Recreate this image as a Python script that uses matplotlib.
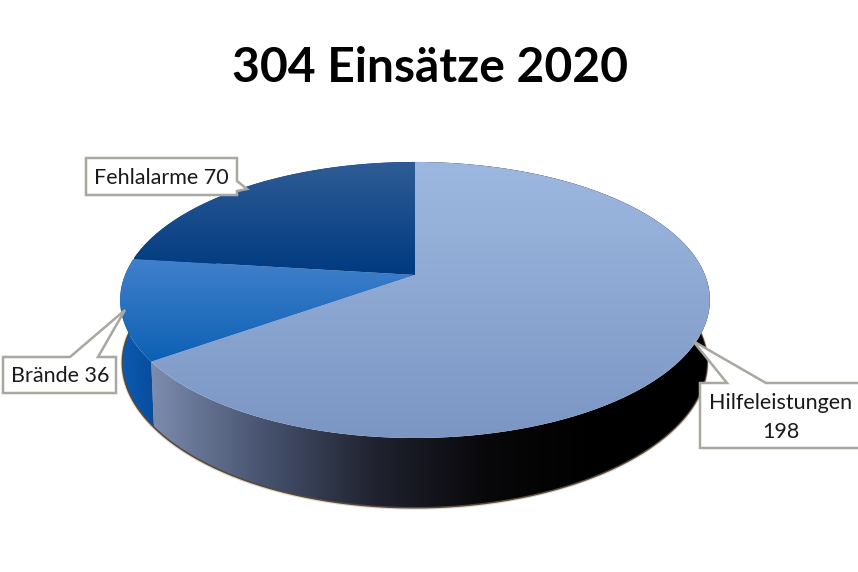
import numpy as np
import matplotlib
matplotlib.use("Agg")
import matplotlib.pyplot as plt
from matplotlib.colors import LinearSegmentedColormap
from matplotlib.patches import PathPatch, Polygon
from matplotlib.path import Path

# Daten
categories = ["Hilfeleistungen", "Brände", "Fehlalarme"]
values = [198, 36, 70]
title = "304 Einsätze 2020"

plt.rcParams["font.family"] = ["Lato", "DejaVu Sans"]

# Geometrie der Torte (Pixel im Bild)
CX, CY = 415, 275
RX, RY = 290, 133.5
PERSP = 0.181

top_colors = [("#9DB8E0", "#7C96C4"), ("#4180CC", "#0C60B4"), ("#2F5C96", "#003A80")]
wall_colors = [["#7C8CAE", "#47536F", "#20222F", "#08080A", "#000000", "#000000"],
               ["#0A5CB2", "#0A4C9C"],
               ["#003070", "#003070"]]


def project(ang):
    u, v = np.cos(ang), np.sin(ang)
    s = 1 + PERSP * v
    return CX + RX * u / s, CY - RY * v / s


def lower(ang):
    x, y = project(ang)
    v = np.sin(ang)
    return CX + (x - CX) * 0.99, y + 62 + 7 * v ** 2


def fill_gradient(ax, xs, ys, colors, horizontal=False, zorder=2):
    verts = np.column_stack([xs, ys])
    patch = Polygon(verts, closed=True, facecolor="none", edgecolor="none", zorder=zorder)
    ax.add_patch(patch)
    cmap = LinearSegmentedColormap.from_list("g", colors)
    grad = np.linspace(0, 1, 256)
    grad = grad.reshape(1, -1) if horizontal else grad.reshape(-1, 1)
    ext = (xs.min(), xs.max(), ys.max(), ys.min())
    im = ax.imshow(grad, cmap=cmap, extent=ext, aspect="auto", zorder=zorder,
                   interpolation="bilinear")
    im.set_clip_path(patch)


def callout(ax, pts):
    codes = [Path.MOVETO] + [Path.LINETO] * (len(pts) - 1) + [Path.CLOSEPOLY]
    path = Path(list(pts) + [pts[0]], codes)
    ax.add_patch(PathPatch(path, facecolor="white", edgecolor="#A8A8A0", lw=1.8,
                           joinstyle="miter", zorder=6))


fig = plt.figure(figsize=(8.58, 5.72), dpi=100)
ax = fig.add_axes([0, 0, 1, 1])

# Winkel der Segmente, im Uhrzeigersinn ab 12 Uhr
sweeps = np.array(values) / sum(values) * 2 * np.pi
starts = np.pi / 2 - np.concatenate([[0], np.cumsum(sweeps)[:-1]])

# Schatten am unteren Rand
a = np.linspace(np.radians(-190), np.radians(10), 300)
lx, ly = lower(a)
ax.plot(lx - 0.3, ly + 0.6, color="#7A6040", lw=3, alpha=0.25, zorder=1)
ax.plot(lx - 0.2, ly + 0.3, color="#2A1806", lw=1.8, alpha=0.75, zorder=1)

# Seitenwände
for i in range(len(values)):
    a = np.linspace(starts[i], starts[i] - sweeps[i], 300)
    tx, ty = project(a)
    bx, by = lower(a)
    xs = np.concatenate([tx, bx[::-1]])
    ys = np.concatenate([ty, by[::-1]])
    fill_gradient(ax, xs, ys, wall_colors[i], horizontal=True, zorder=2)

# Deckflächen
for i in range(len(values)):
    a = np.linspace(starts[i], starts[i] - sweeps[i], 300)
    tx, ty = project(a)
    xs = np.concatenate([[CX], tx])
    ys = np.concatenate([[CY], ty])
    fill_gradient(ax, xs, ys, top_colors[i], zorder=3)

# Beschriftungen
callout(ax, [(86, 158), (237, 158), (237, 181), (247, 189), (237, 191), (237, 195), (86, 195)])
callout(ax, [(3, 357), (70, 357), (125, 310), (98, 357), (116, 357), (116, 393), (3, 393)])
callout(ax, [(700, 383), (727, 383), (693, 341), (766, 383), (870, 383), (870, 448), (700, 448)])

ax.text(161.5, 178, f"{categories[2]} {values[2]}", fontsize=15.5, color="#1A1A1A",
        ha="center", va="center", zorder=7)
ax.text(60, 376, f"{categories[1]} {values[1]}", fontsize=15.5, color="#1A1A1A",
        ha="center", va="center", zorder=7)
ax.text(781, 417.5, f"{categories[0]}\n{values[0]}", fontsize=15.5, color="#1A1A1A",
        ha="center", va="center", linespacing=1.55, zorder=7)

ax.text(429.5, 68, title, fontsize=34.6, fontweight="bold", color="black",
        ha="center", va="center", zorder=7)

ax.set_xlim(0, 858)
ax.set_ylim(572, 0)
ax.axis("off")

fig.savefig("out.png", dpi=100, facecolor="white")
